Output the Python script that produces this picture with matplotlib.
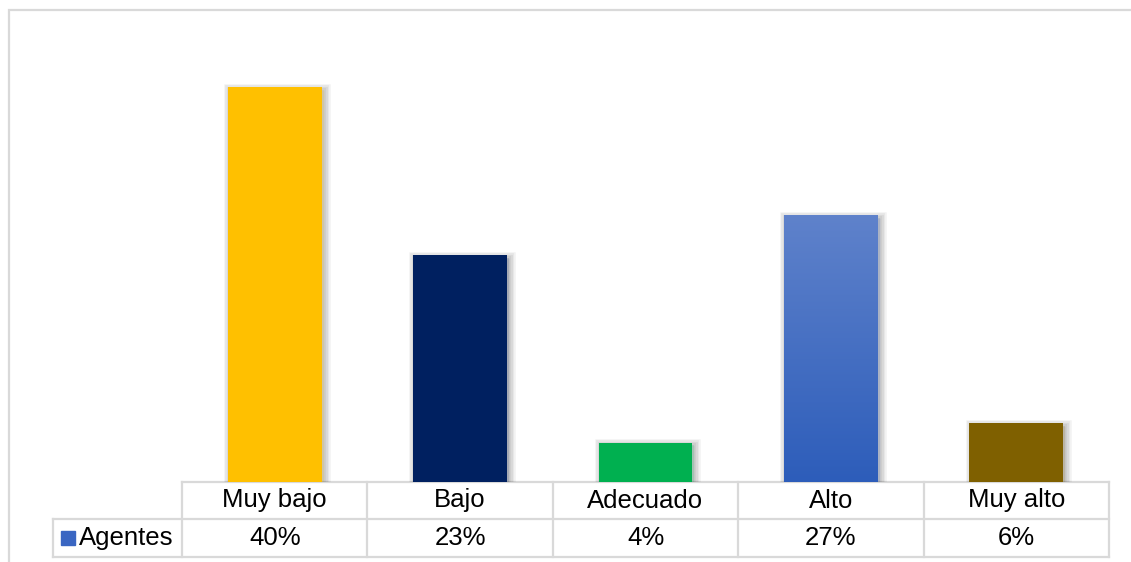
import matplotlib
matplotlib.use("Agg")
import matplotlib.pyplot as plt
import matplotlib.patheffects as pe
import matplotlib.transforms as mtransforms
from matplotlib.patches import Rectangle
from matplotlib.lines import Line2D
import numpy as np

plt.rcParams['font.family'] = ['Liberation Sans', 'DejaVu Sans']

categories = ["Muy bajo", "Bajo", "Adecuado", "Alto", "Muy alto"]
values = [40, 23, 4, 27, 6]
series_name = "Agentes"
bar_colors = ["#FFC000", "#002060", "#00B050", None, "#7F6000"]
gradient_top, gradient_bottom = "#5F82CB", "#2D5DBA"
legend_color = "#3A66C2"
grid_color = "#D9D9D9"

W, H, DPI = 1131, 562, 100
fig = plt.figure(figsize=(W / DPI, H / DPI), dpi=DPI)

# plot area in pixel coordinates
left_px, right_px = 182, 1109
base_px = 482
ymax = 45.0
top_px = base_px - ymax * 9.875
ax = fig.add_axes([left_px / W, 1 - base_px / H,
                   (right_px - left_px) / W, (base_px - top_px) / H])
ax.set_xlim(-0.5, len(categories) - 0.5)
ax.set_ylim(0, ymax)
ax.axis("off")

shadow = [pe.Stroke(linewidth=w, foreground="black", alpha=0.05, offset=(1.5, -2))
          for w in (9, 7, 5, 3)] + [pe.Normal()]

x = np.arange(len(categories))
bars = ax.bar(x, values, width=0.505, color=[c if c else gradient_bottom for c in bar_colors],
              linewidth=0, zorder=2)
for b in bars:
    b.set_path_effects(shadow)

# vertical gradient for the "Alto" bar
for i, c in enumerate(bar_colors):
    if c is None:
        b = bars[i]
        x0, w, h = b.get_x(), b.get_width(), b.get_height()
        top = np.array(matplotlib.colors.to_rgb(gradient_top))
        bot = np.array(matplotlib.colors.to_rgb(gradient_bottom))
        t = np.linspace(0, 1, 256)[:, None]
        img = (top * (1 - t) + bot * t)[:, None, :]
        im = ax.imshow(img, extent=[x0, x0 + w, 0, h], aspect="auto",
                       origin="upper", zorder=3, interpolation="bilinear")
        clip = Rectangle((x0, 0), w, h, transform=ax.transData)
        im.set_clip_path(clip)
ax.set_xlim(-0.5, len(categories) - 0.5)
ax.set_ylim(0, ymax)

# data table below the bars
trans = mtransforms.blended_transform_factory(ax.transData, ax.transAxes)
ax_h = base_px - top_px
row1 = -(519 - base_px) / ax_h
row2 = -(557 - base_px) / ax_h
cat_w_px = (right_px - left_px) / len(categories)
label_left = -0.5 - (left_px - 53) / cat_w_px

lw = 1.6
def hline(x0, x1, y):
    ax.add_line(Line2D([x0, x1], [y, y], transform=trans, color=grid_color,
                       lw=lw, clip_on=False, zorder=1))
def vline(xv, y0, y1):
    ax.add_line(Line2D([xv, xv], [y0, y1], transform=trans, color=grid_color,
                       lw=lw, clip_on=False, zorder=1))

n = len(categories)
hline(-0.5, n - 0.5, 0)
hline(label_left, n - 0.5, row1)
hline(label_left, n - 0.5, row2)
for k in range(n + 1):
    vline(k - 0.5, row2, 0)
vline(label_left, row2, row1)

fs = 18.5
for i, (cat, v) in enumerate(zip(categories, values)):
    ax.text(i, row1 / 2, cat, transform=trans, ha="center", va="center",
            fontsize=fs, color="black")
    ax.text(i, (row1 + row2) / 2, f"{v}%", transform=trans, ha="center",
            va="center", fontsize=fs, color="black")

# series key inside the row label cell
fig.patches.append(Rectangle((61 / W, 1 - 545 / H), 14 / W, 14 / H,
                             transform=fig.transFigure, color=legend_color))
fig.text(79 / W, 1 - 538 / H, series_name, ha="left", va="center",
         fontsize=fs, color="black")

# chart border
fig.patches.append(Rectangle((8.5 / W, -0.05), 1.2, 1 - 9.5 / H + 0.05,
                             transform=fig.transFigure, fill=False,
                             edgecolor=grid_color, lw=1.6))

fig.savefig("out.png", dpi=DPI)
